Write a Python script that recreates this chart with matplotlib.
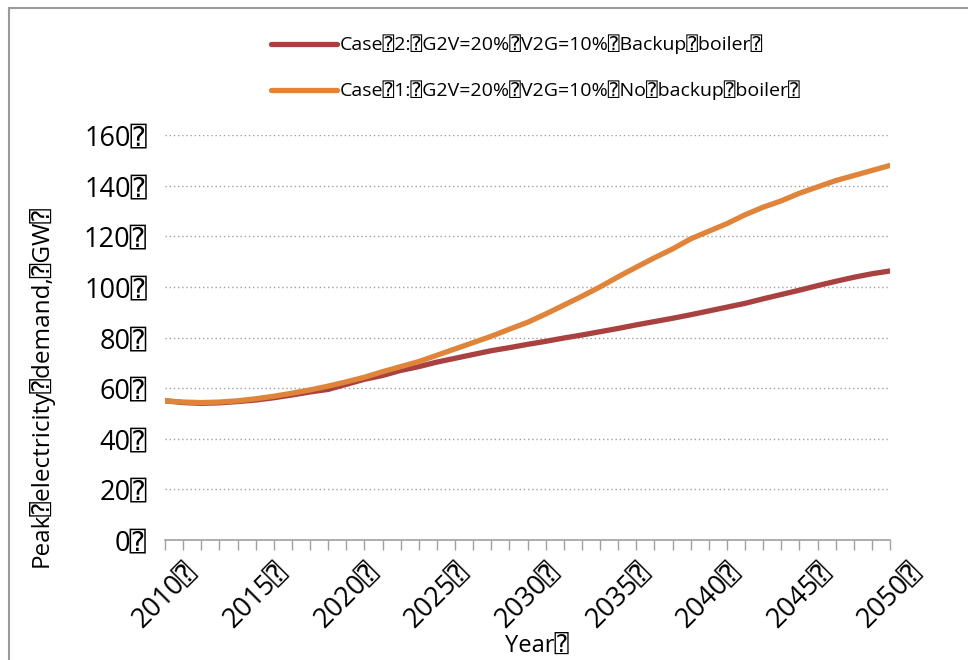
import matplotlib
matplotlib.use("Agg")
import matplotlib.pyplot as plt
from matplotlib.lines import Line2D

plt.rcParams['font.family'] = ['Open Sans', 'DejaVu Sans', 'DejaVu Sans Mono']

B = '\u2370'  # missing-glyph box as it appears in the source chart

years = list(range(2010, 2051))

# Case 1: no backup boiler
case1 = [55.0, 54.5, 54.3, 54.5, 55.0, 55.8, 56.8, 58.0, 59.3, 60.8,
         62.5, 64.3, 66.5, 68.5, 70.5, 73.0, 75.5, 78.0, 80.5, 83.3,
         86.0, 89.3, 92.8, 96.3, 100.0, 104.0, 107.8, 111.5, 115.0, 119.0,
         122.0, 125.0, 128.5, 131.5, 134.0, 137.0, 139.5, 142.0, 144.0, 146.0,
         148.0]

# Case 2: backup boiler
case2 = [55.0, 54.3, 54.0, 54.2, 54.7, 55.3, 56.2, 57.3, 58.5, 59.5,
         61.5, 63.5, 65.0, 67.0, 68.5, 70.3, 71.8, 73.3, 74.8, 76.0,
         77.3, 78.5, 79.8, 81.0, 82.3, 83.6, 85.0, 86.3, 87.6, 89.0,
         90.5, 92.0, 93.5, 95.3, 97.0, 98.7, 100.5, 102.2, 103.8, 105.2,
         106.3]

label2 = "Case" + B + "2:" + B + "G2V=20%" + B + "V2G=10%" + B + "Backup" + B + "boiler" + B
label1 = "Case" + B + "1:" + B + "G2V=20%" + B + "V2G=10%" + B + "No" + B + "backup" + B + "boiler" + B

yticks = list(range(0, 161, 20))
xticks = list(range(2010, 2051, 5))

fig = plt.figure(figsize=(9.68, 6.6), dpi=100)
ax = fig.add_axes([0.1705, 0.1818, 0.749, 0.6136])

ax.plot(years, case2, color='#A8413F', lw=3.8, solid_capstyle='round', label=label2)
ax.plot(years, case1, color='#E0843A', lw=3.8, solid_capstyle='round', label=label1)

ax.set_xlim(2010, 2050)
ax.set_ylim(0, 160)
ax.set_yticks(yticks)
ax.set_yticklabels([str(v) + B for v in yticks], fontsize=19.5)
ax.set_xticks(xticks)
ax.set_xticklabels([str(v) + B for v in xticks], fontsize=19.5, rotation=45, ha='center')
ax.set_xticks(years, minor=True)

ax.grid(axis='y', color='#A0A0A0', linestyle=(0, (1, 2)), lw=1.0)
ax.set_axisbelow(True)
for s in ['top', 'right', 'left']:
    ax.spines[s].set_visible(False)
ax.spines['bottom'].set_color('#A0A0A0')
ax.spines['bottom'].set_linewidth(1.2)
ax.tick_params(axis='y', length=0, pad=13)
ax.tick_params(axis='x', which='both', direction='out', length=7, color='#A0A0A0', width=1.0, pad=6)

ax.set_xlabel("Year" + B, fontsize=17)
ax.xaxis.set_label_coords(0.513, -0.232)
ax.set_ylabel("Peak" + B + "electricity" + B + "demand," + B + "GW" + B, fontsize=17.5)
ax.yaxis.set_label_coords(-0.153, 0.38)

leg = ax.legend(loc='upper left', bbox_to_anchor=(0.27, 0.962), bbox_transform=fig.transFigure,
                frameon=False, fontsize=14, handlelength=3.4, handletextpad=0.15,
                labelspacing=1.35, borderpad=0)

# frame lines along the top and left of the chart area
fig.add_artist(Line2D([0.0098, 0.0098], [0.0, 0.9879], transform=fig.transFigure, color='#9A9A9A', lw=1.5))
fig.add_artist(Line2D([0.0098, 1.0], [0.9879, 0.9879], transform=fig.transFigure, color='#9A9A9A', lw=1.5))

fig.savefig("out.png", dpi=100)
